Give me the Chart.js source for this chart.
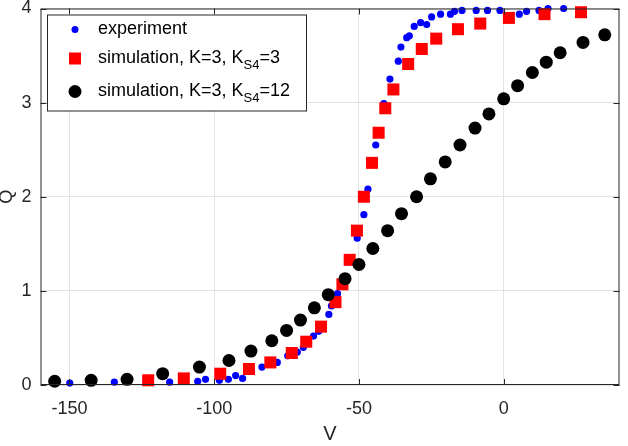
<!DOCTYPE html>
<html>
<head>
<meta charset="utf-8">
<script src="https://cdn.jsdelivr.net/npm/chart.js@4.4.1/dist/chart.umd.min.js"></script>
<style>
  body { margin: 0; background: #fff; }
  #wrap { width: 628px; height: 446px; }
</style>
</head>
<body>
<div id="wrap"><canvas id="myChart" width="628" height="446"></canvas></div>
<script>
// experiment (blue dots)
const expV = [-149.9, -134.5, -115.4, -105.7, -103.0, -98.2, -95.1, -92.6, -90.2, -87.1,
  -83.5, -78.2, -74.6, -71.3, -69.2, -65.7, -63.9, -60.4, -59.5, -57.4,
  -55.5, -53.1, -50.6, -48.3, -46.9, -44.2, -41.4, -39.3, -36.4, -35.5,
  -33.5, -32.6, -30.9, -28.7, -26.6, -24.9, -21.8, -18.4, -17.0, -14.4,
  -9.5, -5.6, -1.3, 5.4, 7.9, 12.2, 15.3, 20.7];
const expQ = [0.02, 0.03, 0.03, 0.04, 0.06, 0.05, 0.06, 0.10, 0.07, 0.15,
  0.19, 0.24, 0.31, 0.35, 0.40, 0.52, 0.57, 0.75, 0.84, 0.97,
  1.09, 1.31, 1.56, 1.81, 2.08, 2.55, 2.99, 3.25, 3.44, 3.59,
  3.69, 3.71, 3.81, 3.85, 3.83, 3.91, 3.94, 3.94, 3.97, 3.98,
  3.98, 3.98, 3.98, 3.94, 3.97, 3.98, 4.0, 4.0];

// simulation K=3, KS4=3 (red squares)
const simAV = [-122.8, -110.5, -97.9, -88.0, -80.6, -73.2, -68.2, -63.1, -58.1, -55.7,
  -53.2, -50.7, -48.3, -45.5, -43.2, -40.9, -38.1, -33.0, -28.3, -23.3,
  -15.8, -8.1, 1.8, 14.1, 26.7];
const simAQ = [0.05, 0.07, 0.12, 0.17, 0.24, 0.34, 0.46, 0.62, 0.88, 1.07,
  1.33, 1.64, 2.0, 2.36, 2.68, 2.94, 3.14, 3.41, 3.57, 3.68,
  3.78, 3.84, 3.90, 3.94, 3.96];

// simulation K=3, KS4=12 (black circles)
const simBV = [-155.1, -142.5, -130.1, -117.8, -105.1, -94.9, -87.3, -80.1, -75.0, -70.2,
  -65.4, -60.6, -54.8, -50.0, -45.2, -40.1, -35.3, -30.1, -25.3, -20.2,
  -15.1, -9.9, -5.1, 0, 4.8, 9.9, 14.7, 19.5, 27.4, 34.9];
const simBQ = [0.04, 0.05, 0.06, 0.12, 0.19, 0.26, 0.36, 0.47, 0.58, 0.69,
  0.82, 0.96, 1.13, 1.28, 1.45, 1.64, 1.82, 2.0, 2.19, 2.37,
  2.55, 2.73, 2.88, 3.04, 3.18, 3.32, 3.43, 3.53, 3.64, 3.72];

const xTicks = [-150, -100, -50, 0];
const yTicks = [0, 1, 2, 3, 4];

const toPoints = (xs, ys) => xs.map((x, i) => ({ x: x, y: ys[i] }));

const font = 'Arial, "Liberation Sans", sans-serif';

// box, inner ticks and legend like the original figure
const decorations = {
  id: 'decorations',
  afterDraw(chart) {
    const ctx = chart.ctx;
    const a = chart.chartArea;
    const xs = chart.scales.x, ys = chart.scales.y;
    ctx.save();
    ctx.strokeStyle = '#262626';
    ctx.lineWidth = 1;
    ctx.strokeRect(a.left + 0.5, a.top + 0.5, a.right - a.left - 1, a.bottom - a.top - 1);
    ctx.beginPath();
    xTicks.forEach(v => {
      const p = Math.round(xs.getPixelForValue(v)) + 0.5;
      ctx.moveTo(p, a.bottom); ctx.lineTo(p, a.bottom - 6);
      ctx.moveTo(p, a.top); ctx.lineTo(p, a.top + 6);
    });
    yTicks.forEach(v => {
      const p = Math.round(ys.getPixelForValue(v)) + 0.5;
      ctx.moveTo(a.left, p); ctx.lineTo(a.left + 6, p);
      ctx.moveTo(a.right, p); ctx.lineTo(a.right - 6, p);
    });
    ctx.stroke();

    // legend
    const lx = a.left + 6.5, ly = a.top + 6, lw = 259, lh = 96;
    ctx.fillStyle = '#fff';
    ctx.fillRect(lx, ly, lw, lh);
    ctx.strokeStyle = '#262626';
    ctx.strokeRect(lx + 0.5, ly + 0.5, lw, lh);

    const mx = lx + 28, tx = lx + 51;
    ctx.fillStyle = '#0000ff';
    ctx.beginPath(); ctx.arc(mx, ly + 15, 3.5, 0, Math.PI * 2); ctx.fill();
    ctx.fillStyle = '#ff0000';
    ctx.fillRect(mx - 6, ly + 44 - 6, 12, 12);
    ctx.fillStyle = '#000';
    ctx.beginPath(); ctx.arc(mx, ly + 77, 6.5, 0, Math.PI * 2); ctx.fill();

    ctx.fillStyle = '#000';
    ctx.textBaseline = 'middle';
    ctx.textAlign = 'left';
    const big = '18px ' + font, small = '13px ' + font;
    const rich = (parts, y) => {
      let x = tx;
      parts.forEach(([t, sub]) => {
        ctx.font = sub ? small : big;
        ctx.fillText(t, x, sub ? y + 7 : y);
        x += ctx.measureText(t).width;
      });
    };
    rich([['experiment', false]], ly + 15);
    rich([['simulation, K=3, K', false], ['S4', true], ['=3', false]], ly + 44);
    rich([['simulation, K=3, K', false], ['S4', true], ['=12', false]], ly + 77);
    ctx.restore();
  }
};

const myChart = document.getElementById('myChart').getContext('2d');

const chart = new Chart(myChart, {
  type: 'scatter',
  data: {
    datasets: [
      {
        label: 'experiment',
        data: toPoints(expV, expQ),
        backgroundColor: '#0000ff',
        borderWidth: 0,
        pointRadius: 3.6,
        pointStyle: 'circle',
        clip: false,
        order: 3
      },
      {
        label: 'simulation, K=3, KS4=3',
        data: toPoints(simAV, simAQ),
        backgroundColor: '#ff0000',
        borderWidth: 0,
        pointRadius: 8.5,
        pointStyle: 'rect',
        clip: false,
        order: 2
      },
      {
        label: 'simulation, K=3, KS4=12',
        data: toPoints(simBV, simBQ),
        backgroundColor: '#000000',
        borderWidth: 0,
        pointRadius: 6.5,
        pointStyle: 'circle',
        clip: false,
        order: 1
      }
    ]
  },
  options: {
    responsive: false,
    animation: false,
    layout: { padding: { top: 8, right: 5, left: 0, bottom: 0 } },
    plugins: {
      legend: { display: false },
      tooltip: { enabled: false }
    },
    scales: {
      x: {
        type: 'linear',
        min: -160,
        max: 40,
        afterBuildTicks: s => { s.ticks = xTicks.map(v => ({ value: v })); },
        afterFit: s => { s.height = 61; s.paddingLeft = 0; s.paddingRight = 0; },
        grid: { color: '#e3e3e3', drawTicks: false },
        border: { display: false },
        ticks: { color: '#262626', padding: 13, font: { family: font, size: 18 } },
        title: { display: true, text: 'V', color: '#262626', padding: { top: 1, bottom: 0 }, font: { family: font, size: 20 } }
      },
      y: {
        type: 'linear',
        min: 0,
        max: 4,
        afterBuildTicks: s => { s.ticks = yTicks.map(v => ({ value: v })); },
        afterFit: s => { s.width = 40.5; s.paddingTop = 0; s.paddingBottom = 0; },
        grid: { color: '#e3e3e3', drawTicks: false },
        border: { display: false },
        ticks: { color: '#262626', padding: 9, font: { family: font, size: 18 } },
        title: { display: true, text: 'Q', color: '#262626', padding: { top: -4, bottom: 0 }, font: { family: font, size: 18 } }
      }
    }
  },
  plugins: [decorations]
});
</script>
</body>
</html>
